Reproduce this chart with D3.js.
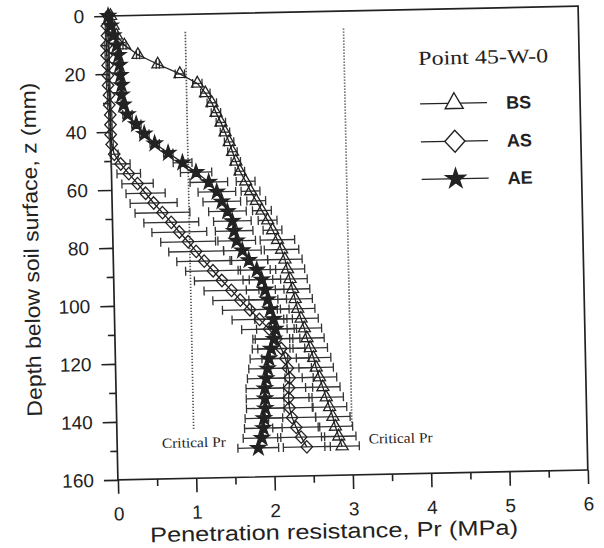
<!DOCTYPE html>
<html>
<head>
<meta charset="utf-8">
<script src="https://cdn.jsdelivr.net/npm/d3@7"></script>
<style>
  html, body { margin: 0; padding: 0; background: #fff; }
  svg { display: block; }
</style>
</head>
<body>
<svg id="chart" width="604" height="548"></svg>
<script>
// Depth of each reading below the soil surface (mm)
const depths = [0, 3.4, 6.8, 10.2, 13.6, 17.0, 20.5, 23.9, 27.3, 30.7, 34.1, 37.5, 40.9, 44.3, 47.7,
  51.1, 54.5, 58.0, 61.4, 64.8, 68.2, 71.6, 75.0, 78.4, 81.8, 85.2, 88.6, 92.0, 95.5, 98.9,
  102.3, 105.7, 109.1, 112.5, 115.9, 119.3, 122.7, 126.1, 129.5, 133.0, 136.4, 139.8, 143.2, 146.6, 150.0];

// Penetration resistance (MPa) for each condition
const bsValues = [0.03, 0.06, 0.10, 0.20, 0.37, 0.62, 0.90, 1.12, 1.22, 1.30, 1.35, 1.41, 1.46, 1.51, 1.55,
  1.59, 1.64, 1.71, 1.77, 1.84, 1.91, 1.98, 2.04, 2.10, 2.15, 2.19, 2.22, 2.25, 2.28, 2.31,
  2.34, 2.38, 2.42, 2.45, 2.49, 2.53, 2.56, 2.60, 2.64, 2.68, 2.72, 2.76, 2.79, 2.83, 2.87];
const asValues = [0.00, -0.02, -0.02, -0.03, -0.03, -0.02, -0.02, -0.02, -0.01, -0.01, 0.00, 0.00, 0.00, 0.01, 0.04,
  0.12, 0.22, 0.33, 0.43, 0.53, 0.64, 0.75, 0.85, 0.96, 1.06, 1.16, 1.27, 1.38, 1.50, 1.61,
  1.73, 1.85, 1.97, 2.06, 2.12, 2.17, 2.20, 2.22, 2.21, 2.20, 2.21, 2.24, 2.29, 2.35, 2.42];
const aeValues = [0.00, 0.03, 0.06, 0.10, 0.12, 0.13, 0.14, 0.15, 0.15, 0.17, 0.22, 0.33, 0.43, 0.56, 0.73,
  0.91, 1.08, 1.24, 1.34, 1.40, 1.47, 1.53, 1.55, 1.58, 1.65, 1.73, 1.83, 1.89, 1.93, 1.96,
  1.99, 2.03, 2.05, 2.03, 1.99, 1.96, 1.94, 1.92, 1.90, 1.90, 1.90, 1.88, 1.87, 1.85, 1.80];

// Half-width of the error bars (MPa)
const bsError = [0.02, 0.02, 0.02, 0.02, 0.02, 0.02, 0.06, 0.06, 0.06, 0.06, 0.06, 0.06, 0.06, 0.06, 0.06,
  0.06, 0.06, 0.12, 0.12, 0.12, 0.12, 0.12, 0.12, 0.22, 0.22, 0.22, 0.22, 0.22, 0.22, 0.22,
  0.22, 0.22, 0.22, 0.22, 0.22, 0.22, 0.22, 0.22, 0.22, 0.22, 0.22, 0.22, 0.22, 0.22, 0.22];
const asError = [0.02, 0.02, 0.02, 0.02, 0.02, 0.02, 0.02, 0.02, 0.02, 0.02, 0.02, 0.02, 0.02, 0.02, 0.05,
  0.12, 0.15, 0.20, 0.25, 0.30, 0.35, 0.35, 0.35, 0.35, 0.35, 0.35, 0.35, 0.35, 0.35, 0.35,
  0.35, 0.35, 0.35, 0.30, 0.30, 0.30, 0.30, 0.30, 0.30, 0.30, 0.30, 0.30, 0.30, 0.30, 0.30];
const aeError = [0.03, 0.03, 0.03, 0.03, 0.03, 0.03, 0.03, 0.03, 0.03, 0.03, 0.06, 0.06, 0.06, 0.06, 0.06,
  0.12, 0.20, 0.24, 0.24, 0.24, 0.24, 0.24, 0.24, 0.24, 0.24, 0.24, 0.24, 0.24, 0.24, 0.24,
  0.24, 0.24, 0.24, 0.24, 0.24, 0.24, 0.24, 0.24, 0.24, 0.24, 0.24, 0.24, 0.24, 0.24, 0.26];

const seriesNames = ["BS", "AS", "AE"];
const xTicks = [0, 1, 2, 3, 4, 5, 6];
const xMinorTicks = [0.5, 1.5, 2.5, 3.5, 4.5, 5.5];
const yTicks = [0, 20, 40, 60, 80, 100, 120, 140, 160];
const yMinorTicks = [10, 30, 50, 70, 90, 110, 130, 150];
const criticalPr = [0.98, 3.0];
const criticalRange = [6, 143];
const criticalLabel = "Critical Pr";
const legendTitle = "Point 45-W-0";
const xTitle = "Penetration resistance, Pr (MPa)";
const yTitle = "Depth below soil surface, z (mm)";

const plot = { left: 113, right: 583, top: 11, bottom: 475 };
const ink = "#222";
const sans = "'Liberation Sans', Arial, sans-serif";
const serif = "'Liberation Serif', 'Times New Roman', serif";

const svg = d3.select("#chart");
svg.append("rect").attr("width", 604).attr("height", 548).attr("fill", "#fff");

// the whole figure sits slightly tilted on the page
const g = svg.append("g").attr("transform", "rotate(-1.2,348,243)");

const x = d3.scaleLinear().domain([0, 6]).range([plot.left, plot.right]);
const y = d3.scaleLinear().domain([0, 160]).range([plot.top, plot.bottom]);

// ---- axes ----
function styleAxis(sel) {
  sel.select(".domain").remove();
  sel.selectAll(".tick line").attr("stroke", ink).attr("stroke-width", 1.6);
  sel.selectAll(".tick text").attr("fill", ink).style("font-family", sans).style("font-size", "19px");
}

g.append("g").attr("transform", `translate(0,${plot.bottom})`)
  .call(d3.axisBottom(x).tickValues(xTicks).tickSize(14).tickPadding(13).tickFormat(d3.format("d")))
  .call(styleAxis);
g.append("g").attr("transform", `translate(0,${plot.bottom})`)
  .call(d3.axisBottom(x).tickValues(xMinorTicks).tickSize(7).tickFormat(""))
  .call(styleAxis);
g.append("g").attr("transform", `translate(${plot.left},0)`)
  .call(d3.axisLeft(y).tickValues(yTicks).tickSize(14).tickPadding(10).tickFormat(d3.format("d")))
  .call(styleAxis);
g.append("g").attr("transform", `translate(${plot.left},0)`)
  .call(d3.axisLeft(y).tickValues(yMinorTicks).tickSize(7).tickFormat(""))
  .call(styleAxis);

g.append("rect")
  .attr("x", plot.left).attr("y", plot.top)
  .attr("width", plot.right - plot.left).attr("height", plot.bottom - plot.top)
  .attr("fill", "none").attr("stroke", ink).attr("stroke-width", 1.7);

// axis titles
g.append("text")
  .attr("x", x(3) - 20).attr("y", 538)
  .attr("text-anchor", "middle")
  .attr("textLength", 368).attr("lengthAdjust", "spacingAndGlyphs")
  .style("font-family", sans).style("font-size", "21px").attr("fill", ink)
  .text(xTitle);
g.append("text")
  .attr("transform", `translate(38.5,${y(80)}) rotate(-90)`)
  .attr("text-anchor", "middle")
  .attr("textLength", 334).attr("lengthAdjust", "spacingAndGlyphs")
  .style("font-family", sans).style("font-size", "21px").attr("fill", ink)
  .text(yTitle);

// ---- critical resistance lines ----
criticalPr.forEach((v, i) => {
  g.append("line")
    .attr("x1", x(v)).attr("x2", x(v))
    .attr("y1", y(criticalRange[0])).attr("y2", y(criticalRange[1]))
    .attr("stroke", "#555").attr("stroke-width", 1.7).attr("stroke-dasharray", "1.4,1.6");
  g.append("text")
    .attr("x", i === 0 ? x(0.57) : x(3.21))
    .attr("y", y(149.3))
    .attr("textLength", 64).attr("lengthAdjust", "spacingAndGlyphs")
    .style("font-family", serif).style("font-size", "14px").attr("fill", ink)
    .text(criticalLabel);
});

// ---- marker shapes ----
function trianglePath(w, h) {
  // centred on the centroid
  return `M0,${-2 * h / 3}L${w / 2},${h / 3}L${-w / 2},${h / 3}Z`;
}
function diamondPath(w, h) {
  return `M0,${-h / 2}L${w / 2},0L0,${h / 2}L${-w / 2},0Z`;
}
const shapes = {
  BS: { path: s => trianglePath(12 * s, 10.5 * s), fill: "none" },
  AS: { path: s => diamondPath(11.5 * s, 12.5 * s), fill: "none" },
  AE: { path: s => d3.symbol(d3.symbolStar, 70 * s * s)(), fill: ink }
};

const series = [
  { name: "BS", values: bsValues, err: bsError },
  { name: "AS", values: asValues, err: asError },
  { name: "AE", values: aeValues, err: aeError }
].map(s => ({ ...s, rows: depths.map((d, i) => ({ d, v: s.values[i], e: s.err[i] })) }));

// error bars
const capH = 4.5;
series.forEach(s => {
  const eb = g.append("g").attr("stroke", "#333").attr("stroke-width", 1.3);
  s.rows.forEach(r => {
    const x0 = x(r.v - r.e), x1 = x(r.v + r.e), yy = y(r.d);
    eb.append("line").attr("x1", x0).attr("x2", x1).attr("y1", yy).attr("y2", yy);
    eb.append("line").attr("x1", x0).attr("x2", x0).attr("y1", yy - capH).attr("y2", yy + capH);
    eb.append("line").attr("x1", x1).attr("x2", x1).attr("y1", yy - capH).attr("y2", yy + capH);
  });
});

// profile lines and markers
const line = d3.line().x(r => x(r.v)).y(r => y(r.d));
series.forEach(s => {
  g.append("path").datum(s.rows).attr("d", line)
    .attr("fill", "none").attr("stroke", ink).attr("stroke-width", 1.3);
  g.append("g").selectAll("path").data(s.rows).join("path")
    .attr("transform", r => `translate(${x(r.v)},${y(r.d)})`)
    .attr("d", shapes[s.name].path(1))
    .attr("fill", shapes[s.name].fill)
    .attr("stroke", ink).attr("stroke-width", 1.3);
});

// ---- legend ----
const legend = g.append("g");
legend.append("text")
  .attr("x", 422).attr("y", 66.5)
  .attr("textLength", 130).attr("lengthAdjust", "spacingAndGlyphs")
  .style("font-family", serif).style("font-size", "20px").attr("fill", ink)
  .text(legendTitle);
const legendY = [105.5, 143.5, 181];
const legendScale = { BS: 1.5, AS: 1.75, AE: 1.3 };
seriesNames.forEach((name, i) => {
  const ly = legendY[i];
  legend.append("line").attr("x1", 423).attr("x2", 490).attr("y1", ly).attr("y2", ly)
    .attr("stroke", ink).attr("stroke-width", 1.3);
  legend.append("path")
    .attr("transform", `translate(457,${ly})`)
    .attr("d", shapes[name].path(legendScale[name]))
    .attr("fill", name === "AE" ? ink : "#fff")
    .attr("stroke", ink).attr("stroke-width", 1.4);
  legend.append("text")
    .attr("x", 509).attr("y", ly + 6.5)
    .style("font-family", sans).style("font-size", "18px").style("font-weight", "bold")
    .attr("fill", ink)
    .text(name);
});
</script>
</body>
</html>
